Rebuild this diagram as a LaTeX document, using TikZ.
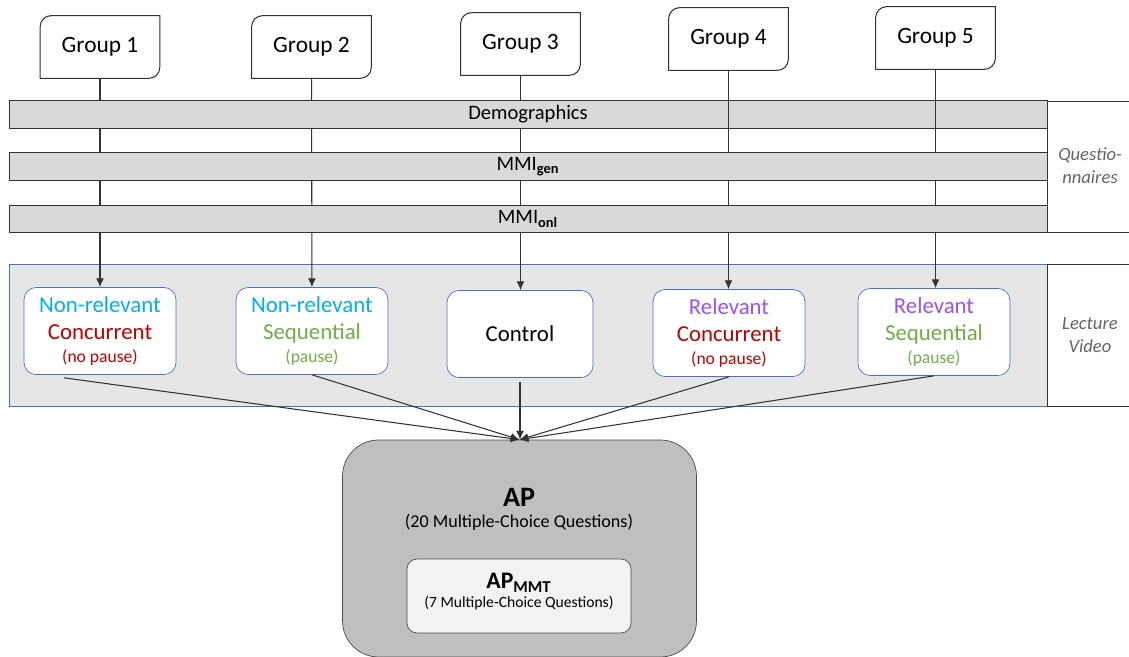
\documentclass[tikz,border=0pt]{standalone}
\usepackage{fontspec}
\setmainfont{Carlito}
\usetikzlibrary{arrows.meta,calc}
\definecolor{nonrelcol}{RGB}{0,176,240}
\definecolor{concol}{RGB}{192,0,0}
\definecolor{seqcol}{RGB}{112,173,71}
\definecolor{relcol}{RGB}{160,80,235}
\definecolor{barfill}{RGB}{217,217,217}
\definecolor{videofill}{RGB}{231,230,230}
\definecolor{boxblue}{RGB}{68,114,196}
\definecolor{apfill}{RGB}{191,191,191}
\definecolor{apinner}{RGB}{242,242,242}
\definecolor{notegray}{RGB}{100,100,100}
\tikzset{
  grp/.style={minimum width=2.38cm, minimum height=1.24cm, inner sep=0pt, font=\fontsize{13.3}{16}\selectfont},
  bar/.style={draw=black!80, fill=barfill, minimum width=20.76cm, minimum height=0.55cm, inner sep=0pt, font=\fontsize{11.7}{14}\selectfont},
  cond/.style={draw=boxblue, fill=white, rounded corners=0.24cm, minimum width=3.04cm, minimum height=1.74cm, align=center, inner sep=0pt, font=\fontsize{13}{15.3}\selectfont},
  conn/.style={draw=black!80, line width=0.6pt, -{Latex[length=5pt,width=4.5pt]}},
  note/.style={align=center, text=notegray, font=\fontsize{10.6}{13}\selectfont\itshape}
}
\newcommand{\pausetxt}[2]{{\fontsize{10}{12}\selectfont\color{#1}#2}}
\begin{document}
\begin{tikzpicture}[x=0.02cm, y=0.02cm]
	\clip (0,0) rectangle (1129,656);
	% Lecture video band
	\draw[boxblue, fill=videofill] (9,250) rectangle (1047,392);
	\draw[black!80] (1047,250) rectangle (1140,392);
	\draw[black!80] (1047,424) rectangle (1140,555);
	\node[note] (qlabel) at (1090,490) {Questio-\\nnaires};
	\node[note] (vlabel) at (1090,321) {Lecture\\Video};
	
	% Conditions
	\node[cond] (nrc) at (100,325) {\color{nonrelcol}Non-relevant\\ \color{concol}Concurrent\\[-2pt] \pausetxt{concol}{(no pause)}};
	\node[cond] (nrs) at (312,325) {\color{nonrelcol}Non-relevant\\ \color{seqcol}Sequential\\[-2pt] \pausetxt{seqcol}{(pause)}};
	\node[cond, minimum width=2.92cm] (ctrl) at (520,322) {Control};
	\node[cond] (rc) at (729,323) {\color{relcol}Relevant\\ \color{concol}Concurrent\\[-2pt] \pausetxt{concol}{(no pause)}};
	\node[cond] (rs) at (934,324) {\color{relcol}Relevant\\ \color{seqcol}Sequential\\[-2pt] \pausetxt{seqcol}{(pause)}};
	
	% Groups
	\node[grp] (g1) at (100,609) {Group 1};
	\node[grp] (g2) at (311.5,609) {Group 2};
	\node[grp] (g3) at (520.5,612) {Group 3};
	\node[grp] (g4) at (728.5,617) {Group 4};
	\node[grp] (g5) at (935.5,618) {Group 5};
	\foreach \g in {g1,g2,g3,g4,g5}{
		\draw[black!80, line width=0.6pt] (\g.south west) -- ([yshift=-0.22cm]\g.north west) arc[start angle=180, end angle=90, radius=0.22cm] -- (\g.north east) -- ([yshift=0.22cm]\g.south east) arc[start angle=0, end angle=-90, radius=0.22cm] -- cycle;
	}
	\draw[conn] (g1) -- (nrc);
	\draw[conn] (g2) -- (nrs);
	\draw[conn] (g3.south) -- (ctrl.north -| g3.south);
	
	% Questionnaires
	\node[bar] (demo) at (528,541.5) {Demographics};
	\draw[conn] (g4.south) -- (rc.north -| g4.south);
	\draw[conn] (g5.south) -- (rs.north -| g5.south);
	\node[bar] (mgen) at (528,489.5) {MMI\textsubscript{\textbf{gen}}};
	\node[bar] (monl) at (528,437) {MMI\textsubscript{\textbf{onl}}};
	
	% Test
	\node[draw=black!70, fill=apfill, rounded corners=0.72cm, minimum width=7.08cm, minimum height=4.34cm] (ap) at (519.5,107.5) {};
	\node[draw=black!70, fill=apinner, rounded corners=0.2cm, minimum width=4.48cm, minimum height=1.48cm] (mmt) at (519,60) {};
	\node[font=\fontsize{16}{19}\selectfont\bfseries] (aptitle) at (519,159) {AP};
	\node[font=\fontsize{10.3}{12}\selectfont] (apsub) at (519,134) {(20 Multiple-Choice Questions)};
	\node[font=\fontsize{13.5}{16}\selectfont\bfseries] (mmttitle) at (519,73) {AP\textsubscript{MMT}};
	\node[font=\fontsize{8.9}{11}\selectfont] (mmtsub) at (519,53) {(7 Multiple-Choice Questions)};
	
	% Into the test
	\draw[conn] ($(nrc.south)+(-36,-3)$) -- (ap.north);
	\draw[conn] (nrs.south) -- (ap.north);
	\draw[conn] ($(ctrl.south)+(0,-4)$) -- (ap.north -| ctrl.south);
	\draw[conn] (rc.south) -- (ap.north);
	\draw[conn] (rs.south) -- (ap.north);
\end{tikzpicture}
\end{document}
